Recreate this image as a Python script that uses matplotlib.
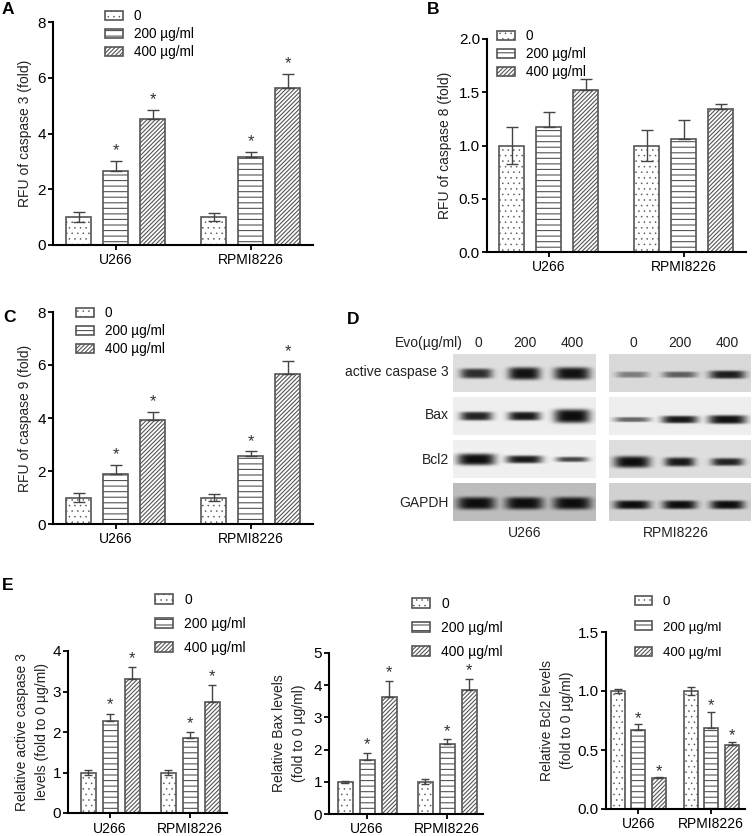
import numpy as np
import matplotlib
matplotlib.use("Agg")
import matplotlib.pyplot as plt

plt.rcParams['font.family'] = ['Liberation Sans', 'DejaVu Sans']

W = 753
H = 836

groups = ["U266", "RPMI8226"]
doses = ["0", "200 µg/ml", "400 µg/ml"]
hatches = ["...", "---", "////////"]
hatch_lw = [0.35, 0.8, 0.8]

# bar values, one row per cell line
a_vals = [[1.0, 2.67, 4.52], [1.0, 3.16, 5.65]]
a_errs = [[0.17, 0.36, 0.32], [0.15, 0.17, 0.48]]
b_vals = [[1.0, 1.17, 1.52], [1.0, 1.06, 1.34]]
b_errs = [[0.17, 0.14, 0.10], [0.15, 0.18, 0.05]]
c_vals = [[1.0, 1.87, 3.93], [1.0, 2.56, 5.65]]
c_errs = [[0.17, 0.36, 0.31], [0.14, 0.18, 0.49]]
e1_vals = [[1.0, 2.27, 3.32], [1.0, 1.86, 2.74]]
e1_errs = [[0.07, 0.18, 0.28], [0.05, 0.13, 0.41]]
e2_vals = [[1.0, 1.68, 3.62], [1.0, 2.18, 3.84]]
e2_errs = [[0.03, 0.22, 0.52], [0.08, 0.14, 0.35]]
e3_vals = [[1.0, 0.67, 0.26], [1.0, 0.69, 0.54]]
e3_errs = [[0.02, 0.05, 0.01], [0.03, 0.135, 0.03]]

# western blot, band strength per lane (U266 then RPMI8226)
blot_rows = ["active caspase 3", "Bax", "Bcl2", "GAPDH"]
blot_doses = ["0", "200", "400"]
blot_bg = [[0.87, 0.85], [0.93, 0.93], [0.94, 0.87], [0.74, 0.82]]
blot_dark = [[[0.85, 0.98, 0.98], [0.45, 0.6, 0.92]],
             [[0.9, 0.95, 1.0], [0.6, 0.95, 0.98]],
             [[1.0, 0.95, 0.75], [1.0, 0.95, 0.9]],
             [[1.0, 1.0, 1.0], [1.0, 1.0, 1.0]]]
blot_halfwidth = [[[16, 16, 18], [16, 17, 18]],
                  [[16, 16, 18], [18, 18, 19]],
                  [[19, 18, 16], [18, 15, 16]],
                  [[19, 19, 19], [18, 17, 17]]]
blot_thick = [[[8, 10, 10], [5, 5, 6.5]],
              [[7, 7, 11], [4, 6, 7]],
              [[9, 6, 4], [9, 7, 6]],
              [[10, 10, 10], [7, 7, 7]]]
blot_ypos = [[0.5, 0.53], [0.49, 0.58], [0.51, 0.575], [0.52, 0.56]]


def px_axes(l, t, r, b):
    return fig.add_axes([l / W, 1 - b / H, (r - l) / W, (b - t) / H])


def fig_x(x):
    return x / W


def fig_y(y):
    return 1 - y / H


def bar_panel(rect, vals, errs, ymax, yticks, ylabel, label_x, first, width, pitch, gap,
              star_off, leg_xy, leg_size, leg_space, fmt="%g", capsize=4.3, xpad=2.5):
    ax = px_axes(*rect)
    for g in range(2):
        for i in range(3):
            x = first + i * pitch + g * gap
            plt.rcParams['hatch.linewidth'] = hatch_lw[i]
            ax.bar(x, vals[g][i], width, facecolor="white", edgecolor="#555555",
                   linewidth=1.2, hatch=hatches[i], label=doses[i] if g == 0 else None,
                   zorder=2)
            low = errs[g][i] if i == 0 else 0
            ax.errorbar(x, vals[g][i], yerr=[[low], [errs[g][i]]], color="#444444",
                        elinewidth=1, capsize=capsize, capthick=1, zorder=3)
            if star_off is not None and i > 0:
                ax.annotate("*", (x, vals[g][i] + errs[g][i]), xytext=(0, star_off),
                            textcoords="offset points", ha="center", va="baseline",
                            fontsize=12, color="#333333")
    ax.set_xlim(0, rect[2] - rect[0])
    ax.set_ylim(0, ymax)
    ax.set_yticks(yticks)
    ax.set_yticklabels([fmt % t for t in yticks], fontsize=11)
    ax.set_xticks([first + pitch + g * gap for g in range(2)])
    ax.set_xticklabels(groups, fontsize=10)
    ax.tick_params(axis="y", length=3.6, width=1.3, pad=1.5)
    ax.tick_params(axis="x", length=3.6, width=1.3, pad=xpad)
    for s in ["top", "right"]:
        ax.spines[s].set_visible(False)
    for s in ["left", "bottom"]:
        ax.spines[s].set_linewidth(1.5)
        ax.spines[s].set_zorder(5)
    ax.set_ylabel(ylabel, fontsize=10, color="#222222", va="center", linespacing=1.5)
    ax.yaxis.set_label_coords((label_x - rect[0]) / (rect[2] - rect[0]), 0.5)
    hs, ls = ax.get_legend_handles_labels()
    leg = ax.legend(hs, ls, loc="upper left", bbox_to_anchor=(fig_x(leg_xy[0]), fig_y(leg_xy[1])),
                    bbox_transform=fig.transFigure, frameon=False, fontsize=leg_size,
                    borderpad=0, borderaxespad=0, handlelength=1.3, handleheight=0.65,
                    handletextpad=0.8, labelspacing=leg_space)
    for i, p in enumerate(leg.get_patches()):
        p._hatch_linewidth = hatch_lw[i]
    return ax


fig = plt.figure(figsize=(W / 100, H / 100), dpi=100)

bar_panel((53, 22, 313, 245), a_vals, a_errs, 8, [0, 2, 4, 6, 8], "RFU of caspase 3 (fold)",
          25, 25.5, 25, 37, 135, 4, (105, 9), 9.8, 0.3, xpad=2)
bar_panel((487, 39, 746, 252), b_vals, b_errs, 2, [0, 0.5, 1, 1.5, 2],
          "RFU of caspase 8 (fold)", 445, 24.5, 25, 37, 135, None, (497, 29), 9.8, 0.3,
          fmt="%.1f")
bar_panel((53, 312, 313, 524), c_vals, c_errs, 8, [0, 2, 4, 6, 8], "RFU of caspase 9 (fold)",
          25, 25.5, 25, 37, 135, 4, (76, 306), 9.8, 0.3)
bar_panel((68, 651, 227, 813), e1_vals, e1_errs, 4, [0, 1, 2, 3, 4],
          "Relative active caspase 3\nlevels (fold to 0 µg/ml)", 32, 20, 15, 22, 80, 3,
          (155, 593), 10, 0.72, capsize=2.8, xpad=3)
bar_panel((329, 653, 483, 814), e2_vals, e2_errs, 5, [0, 1, 2, 3, 4, 5],
          "Relative Bax levels\n(fold to 0 µg/ml)", 289, 16, 15, 22, 80, 2.5,
          (412, 597), 10, 0.72, capsize=2.8, xpad=2)
bar_panel((606, 632, 745, 809), e3_vals, e3_errs, 1.5, [0, 0.5, 1, 1.5],
          "Relative Bcl2 levels\n(fold to 0 µg/ml)", 557, 12, 14, 20.3, 73, 1,
          (635, 596), 9.5, 1.02, fmt="%.1f", capsize=2.8)

# blot panels
blot_x = [(453, 596), (609, 751)]
blot_y = [(354, 392), (397, 435), (440, 478), (483, 521)]
lane_pos = [0.16, 0.495, 0.83]

for r in range(4):
    for c in range(2):
        l, rr = blot_x[c]
        t, b = blot_y[r]
        ax = px_axes(l, t, rr, b)
        xx, yy = np.meshgrid(np.arange(rr - l), np.arange(b - t))
        band = np.zeros(xx.shape)
        for k in range(3):
            cx = lane_pos[k] * (rr - l)
            cy = blot_ypos[r][c] * (b - t)
            wx = blot_halfwidth[r][c][k]
            wy = blot_thick[r][c][k] / 2 * 1.25
            one = blot_dark[r][c][k] * np.exp(-((xx - cx) / wx) ** 4) * np.exp(-((yy - cy) / wy) ** 4)
            band = np.maximum(band, one)
        img = blot_bg[r][c] - (blot_bg[r][c] - 0.05) * band
        ax.imshow(img, cmap="gray", vmin=0, vmax=1, aspect="auto", interpolation="bilinear")
        ax.axis("off")
    fig.text(fig_x(449), fig_y([372, 415, 460, 503][r]), blot_rows[r], ha="right", va="center",
             fontsize=10, color="#222222")

fig.text(fig_x(463), fig_y(343), "Evo(µg/ml)", ha="right", va="center", fontsize=10, color="#222222")
for c in range(2):
    for k in range(3):
        fig.text(fig_x([478, 525, 572, 633, 680, 727][c * 3 + k]), fig_y(343), blot_doses[k],
                 ha="center", va="center", fontsize=10, color="#222222")
    fig.text(fig_x([525, 676][c]), fig_y(533), groups[c], ha="center", va="center", fontsize=10,
             color="#222222")

# panel letters
for letter, x, y in [("A", 2, 9), ("B", 427, 9), ("C", 3, 317), ("D", 347, 319), ("E", 2, 585)]:
    fig.text(fig_x(x), fig_y(y), letter, fontsize=12.5, fontweight="bold", ha="left", va="center")

fig.savefig("out.png", dpi=100)
